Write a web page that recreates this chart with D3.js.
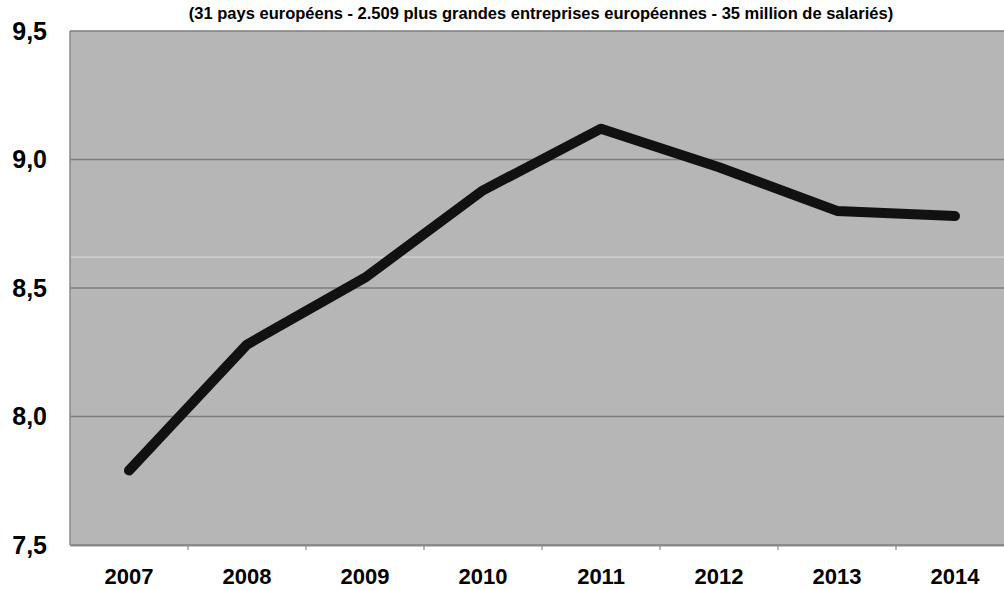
<!DOCTYPE html>
<html>
<head>
<meta charset="utf-8">
<script src="https://cdn.jsdelivr.net/npm/d3@7"></script>
<style>
  body { margin: 0; background: #fff; }
  svg text { font-family: "Liberation Sans", Arial, Helvetica, sans-serif; font-weight: bold; fill: #000; }
</style>
</head>
<body>
<div id="chart"></div>
<script>
// data
var years = ["2007", "2008", "2009", "2010", "2011", "2012", "2013", "2014"];
var values = [7.79, 8.28, 8.54, 8.88, 9.12, 8.97, 8.80, 8.78];
var yTicks = [7.5, 8.0, 8.5, 9.0, 9.5];
var lightLine = 8.62;
var subtitle = "(31 pays européens - 2.509 plus grandes entreprises européennes - 35 million de salariés)";

var width = 1004, height = 590;
var margin = {top: 31, right: -10, bottom: 45, left: 70};
var innerW = width - margin.left - margin.right,
    innerH = height - margin.top - margin.bottom;

var svg = d3.select("#chart").append("svg")
    .attr("width", width)
    .attr("height", height);

var g = svg.append("g")
    .attr("transform", "translate(" + margin.left + "," + margin.top + ")");

var x = d3.scaleBand().domain(years).range([0, innerW]);
var y = d3.scaleLinear().domain([7.5, 9.5]).range([innerH, 0]);

// plot background
g.append("rect")
    .attr("width", innerW)
    .attr("height", innerH)
    .attr("fill", "#b6b6b6");

// gridlines
g.selectAll(".grid")
    .data(yTicks)
  .enter().append("line")
    .attr("x1", 0).attr("x2", innerW)
    .attr("y1", function(d) { return y(d); })
    .attr("y2", function(d) { return y(d); })
    .attr("stroke", "#7e7e7e")
    .attr("stroke-width", 1.3);

g.append("line")
    .attr("x1", 0).attr("x2", innerW)
    .attr("y1", y(lightLine)).attr("y2", y(lightLine))
    .attr("stroke", "#d6d6d6")
    .attr("stroke-width", 1.2);

// left axis line
g.append("line")
    .attr("x1", 0).attr("x2", 0)
    .attr("y1", 0).attr("y2", innerH)
    .attr("stroke", "#8a8a8a")
    .attr("stroke-width", 1.5);

// bottom axis
var xAxis = g.append("g")
    .attr("transform", "translate(0," + innerH + ")")
    .call(d3.axisBottom(x).tickSize(0).tickPadding(23));
xAxis.select(".domain").attr("stroke", "#8a8a8a").attr("stroke-width", 2);
xAxis.selectAll("text")
    .style("font-size", "22px");

// category ticks between bands
g.selectAll(".xtick")
    .data(years.slice(1))
  .enter().append("line")
    .attr("x1", function(d) { return x(d); })
    .attr("x2", function(d) { return x(d); })
    .attr("y1", innerH).attr("y2", innerH + 5)
    .attr("stroke", "#8a8a8a")
    .attr("stroke-width", 1.2);

// y labels
g.selectAll(".ylab")
    .data(yTicks)
  .enter().append("text")
    .attr("x", -23)
    .attr("y", function(d) { return y(d); })
    .attr("dy", "0.35em")
    .attr("text-anchor", "end")
    .style("font-size", "25px")
    .text(function(d) { return d.toFixed(1).replace(".", ","); });

// the line
var line = d3.line()
    .x(function(d, i) { return x(years[i]) + x.bandwidth() / 2; })
    .y(function(d) { return y(d); });

g.append("path")
    .datum(values)
    .attr("fill", "none")
    .attr("stroke", "#111")
    .attr("stroke-width", 10)
    .attr("stroke-linecap", "round")
    .attr("stroke-linejoin", "round")
    .attr("d", line);

// subtitle
svg.append("text")
    .attr("x", 541)
    .attr("y", 19)
    .attr("text-anchor", "middle")
    .style("font-size", "16.5px")
    .text(subtitle);
</script>
</body>
</html>
